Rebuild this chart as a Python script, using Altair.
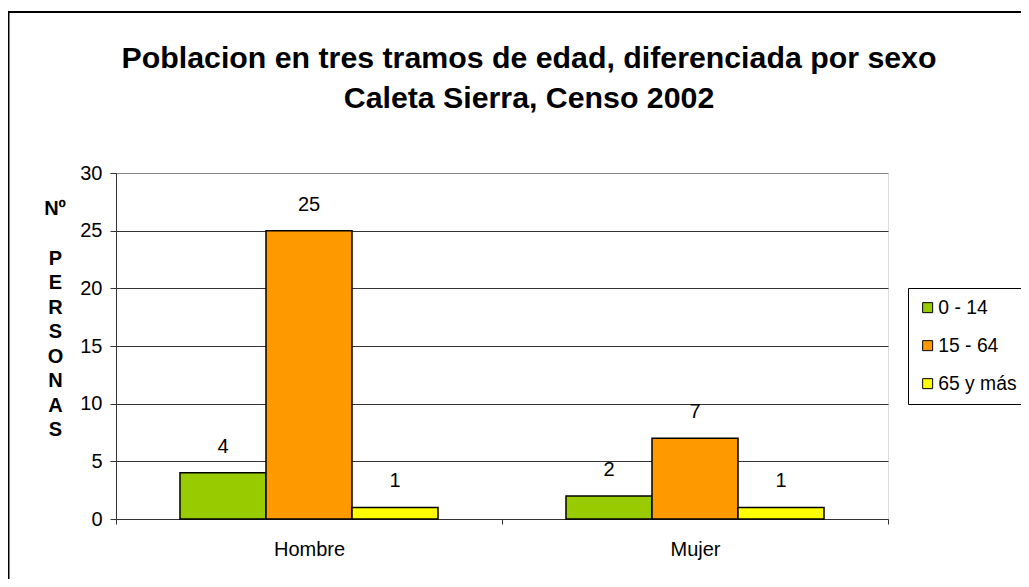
import altair as alt
import pandas as pd

# ---- data ----
sexos = ["Hombre", "Mujer"]
tramos = ["0 - 14", "15 - 64", "65 y más"]
hombre = [4, 25, 1]
mujer = [2, 7, 1]
colores = ["#99CC00", "#FF9900", "#FFFF00"]
y_ticks = [0, 5, 10, 15, 20, 25, 30]
titulo = ["Poblacion en tres tramos de edad, diferenciada por sexo",
          "Caleta Sierra, Censo 2002"]
y_titulo_sup = "Nº"
y_titulo = ["P", "E", "R", "S", "O", "N", "A", "S"]

rows = []
for s, vals in zip(sexos, [hombre, mujer]):
    for t, v in zip(tramos, vals):
        rows.append({"sexo": s, "tramo": t, "personas": v})
df = pd.DataFrame(rows)

FONT = "Liberation Sans"
FS = 20

x_enc = alt.X("sexo:N", sort=sexos,
              scale=alt.Scale(paddingInner=0, paddingOuter=0),
              axis=alt.Axis(title=None, labelAngle=0, labelFontSize=FS,
                            labelColor="black", labelFont=FONT,
                            tickBand="extent", tickSize=5, tickColor="#333",
                            domainColor="#333", labelPadding=15,
                            labelBaseline="top", grid=False))
xoff = alt.XOffset("tramo:N", sort=tramos,
                   scale=alt.Scale(paddingInner=0, paddingOuter=0.744))
y_enc = alt.Y("personas:Q",
              scale=alt.Scale(domain=[0, 30], nice=False),
              axis=alt.Axis(values=y_ticks, title=y_titulo, titleAngle=0,
                            titleX=-61, titleY=91, titleAlign="center",
                            titleBaseline="alphabetic", titleFontSize=FS,
                            titleFontWeight="bold", titleFont=FONT,
                            titleLineHeight=24.5, titleColor="black",
                            labelFontSize=FS, labelColor="black", labelFont=FONT,
                            labelPadding=8, tickSize=6, tickColor="#333",
                            domainColor="#333",
                            gridColor={"condition": {"test": "datum.value === 30", "value": "#888888"},
                                       "value": "#333333"}))

frame = alt.Chart(pd.DataFrame({"k": [0]})).mark_rect(
    filled=False, stroke="black", strokeWidth=2
).encode(x=alt.value(-107.5), y=alt.value(-161), x2=alt.value(2000), y2=alt.value(2000))

bars = alt.Chart(df).mark_bar(stroke="black", strokeWidth=1.5).encode(
    x=x_enc, xOffset=xoff, y=y_enc,
    color=alt.Color("tramo:N", sort=tramos,
                    scale=alt.Scale(domain=tramos, range=colores),
                    legend=alt.Legend(title=None, orient="none", legendX=792,
                                      legendY=115, labelFontSize=19.3,
                                      labelFont=FONT, labelColor="black",
                                      symbolType="square", symbolSize=100,
                                      symbolStrokeColor="black",
                                      symbolStrokeWidth=1, symbolOpacity=1,
                                      rowPadding=18, padding=10,
                                      labelOffset=1, strokeColor="black",
                                      fillColor="white")),
)

labels = alt.Chart(df).mark_text(
    fontSize=FS, font=FONT, color="black", baseline="alphabetic", dy=-20
).encode(x=alt.X("sexo:N", sort=sexos), xOffset=alt.XOffset("tramo:N", sort=tramos),
         y="personas:Q", text="personas:Q")

no_mark = alt.Chart(pd.DataFrame({"t": [y_titulo_sup]})).mark_text(
    fontSize=FS, font=FONT, fontWeight="bold", color="black",
    align="center", baseline="alphabetic"
).encode(x=alt.value(-61), y=alt.value(42), text="t:N")

title_mark = alt.Chart(pd.DataFrame({"k": [0]})).mark_text(
    text=titulo, fontSize=30.3, font=FONT, fontWeight="bold", color="black",
    align="center", baseline="alphabetic", lineHeight=40
).encode(x=alt.value(413), y=alt.value(-105))

chart = alt.layer(frame, bars, labels, no_mark, title_mark).properties(
    width=772, height=346,
    autosize=alt.AutoSizeParams(type="none"),
    padding={"left": 108, "top": 165, "right": 133, "bottom": 60},
).configure_view(stroke="#888888", strokeWidth=1).configure(font=FONT)

chart.save("out.html", embed_options={"renderer": "svg", "actions": False})
